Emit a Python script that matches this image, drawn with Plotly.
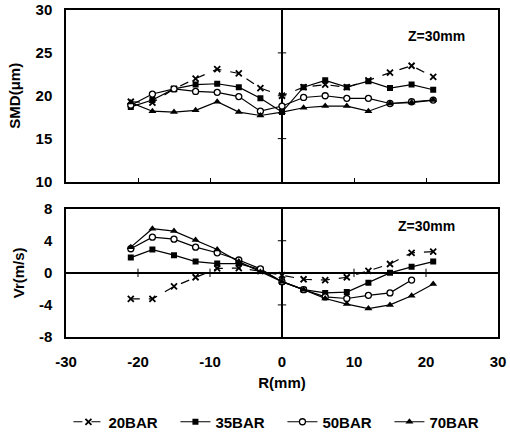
import plotly.graph_objects as go
from plotly.subplots import make_subplots

R = [-21, -18, -15, -12, -9, -6, -3, 0, 3, 6, 9, 12, 15, 18, 21]

smd_20 = [19.3, 19.2, 20.8, 22.0, 23.1, 22.6, 20.9, 20.0, 21.0, 21.3, 21.0, 21.8, 22.7, 23.5, 22.2]
smd_35 = [18.7, 19.5, 20.8, 21.3, 21.4, 21.0, 19.7, 18.1, 21.0, 21.8, 21.0, 21.7, 20.9, 21.3, 20.7]
smd_50 = [18.9, 20.2, 20.8, 20.5, 20.4, 19.9, 18.2, 18.8, 19.8, 20.0, 19.7, 19.7, 19.1, 19.3, 19.5]
smd_70 = [19.2, 18.2, 18.1, 18.3, 19.3, 18.1, 17.7, 18.1, 18.6, 18.8, 18.8, 18.2, 19.1, 19.2, 19.5]

vr_20 = [-3.25, -3.25, -1.7, -0.55, 0.55, 0.6, 0.2, -0.3, -0.8, -0.9, -0.55, 0.25, 1.1, 2.5, 2.65]
vr_35 = [1.9, 2.9, 2.2, 1.4, 1.15, 1.15, 0.4, -1.1, -2.1, -2.5, -2.4, -1.25, 0.0, 0.75, 1.4]
vr_50 = [3.0, 4.45, 4.2, 3.2, 2.5, 1.6, 0.5, -1.1, -2.1, -3.0, -3.2, -2.8, -2.5, -0.9, None]
vr_70 = [3.2, 5.5, 5.2, 4.1, 2.9, 1.4, 0.1, -1.1, -2.1, -3.2, -3.9, -4.45, -4.0, -2.85, -1.4]

x_ticks = [-30, -20, -10, 0, 10, 20, 30]
smd_ticks = [10, 15, 20, 25, 30]
vr_ticks = [-8, -4, 0, 4, 8]

names = ["20BAR", "35BAR", "50BAR", "70BAR"]
smd = [smd_20, smd_35, smd_50, smd_70]
vr = [vr_20, vr_35, vr_50, vr_70]

styles = [
    dict(symbol="x-thin", size=6, color="black", line=dict(width=1.8, color="black"), dash="dash"),
    dict(symbol="square", size=6, color="black", line=dict(width=0, color="black"), dash="solid"),
    dict(symbol="circle", size=6, color="white", line=dict(width=1.3, color="black"), dash="solid"),
    dict(symbol="triangle-up", size=7, color="black", line=dict(width=0, color="black"), dash="solid"),
]

fig = make_subplots(rows=2, cols=1, vertical_spacing=0.083, row_heights=[0.572, 0.428])

# small tick marks on the crossing axes (Excel style), derived from tick arrays
inner_x = [t for t in x_ticks if t not in (-30, 0, 30)]
tick_mk = dict(color="black", size=6, line=dict(width=1, color="black"))
fig.add_trace(go.Scatter(x=[0] * 3, y=smd_ticks[1:4], mode="markers", showlegend=False,
                         hoverinfo="skip", marker=dict(symbol="line-ew", **tick_mk)), row=1, col=1)
fig.add_trace(go.Scatter(x=[0, 0], y=[vr_ticks[1], vr_ticks[3]], mode="markers", showlegend=False,
                         hoverinfo="skip", marker=dict(symbol="line-ew", **tick_mk)), row=2, col=1)
fig.add_trace(go.Scatter(x=inner_x, y=[0] * len(inner_x), mode="markers", showlegend=False,
                         hoverinfo="skip", marker=dict(symbol="line-ns", **tick_mk)), row=2, col=1)

for i, name in enumerate(names):
    st = styles[i]
    mk = dict(symbol=st["symbol"], size=st["size"], color=st["color"], line=st["line"])
    fig.add_trace(go.Scatter(x=R, y=smd[i], mode="lines+markers", name=name,
                             line=dict(color="black", width=1.2, dash=st["dash"]),
                             marker=mk, showlegend=True, legendgroup=name), row=1, col=1)
    fig.add_trace(go.Scatter(x=R, y=vr[i], mode="lines+markers", name=name,
                             line=dict(color="black", width=1.2, dash=st["dash"]),
                             marker=mk, showlegend=False, legendgroup=name,
                             connectgaps=False), row=2, col=1)

FONT = "Liberation Sans"
tickf = dict(family=FONT, size=15, color="black")

def b(v):
    return "<b>%s</b>" % v

axis_common = dict(showline=True, linecolor="black", linewidth=1.5, mirror=True,
                   showgrid=False, tickfont=tickf, ticklabeloverflow="allow")

fig.update_xaxes(range=[-30, 30], zeroline=True, zerolinecolor="black",
                 zerolinewidth=1.5, **axis_common)
fig.update_xaxes(showticklabels=False, ticks="inside", ticklen=4, tickcolor="black",
                 tickvals=inner_x, row=1, col=1)
fig.update_xaxes(ticks="", tickvals=x_ticks, ticktext=[b(t) for t in x_ticks],
                 ticklabelstandoff=10,
                 title=dict(text=b("R(mm)"), font=tickf, standoff=9), row=2, col=1)

fig.update_yaxes(range=[10, 30], tickvals=smd_ticks, ticktext=[b(t) for t in smd_ticks],
                 ticks="", ticklabelstandoff=9, zeroline=False,
                 title=dict(text=b("SMD(μm)"), font=tickf, standoff=11),
                 row=1, col=1, **axis_common)
fig.update_yaxes(range=[-8, 8], tickvals=vr_ticks, ticktext=[b(t) for t in vr_ticks],
                 ticks="", ticklabelstandoff=9, zeroline=True, zerolinecolor="black",
                 zerolinewidth=1.5,
                 title=dict(text=b("Vr(m/s)"), font=tickf, standoff=11),
                 row=2, col=1, **axis_common)

zf = dict(family=FONT, size=14, color="black")
fig.add_annotation(text=b("Z=30mm"), x=21.4, y=27.0, xref="x", yref="y",
                   showarrow=False, font=zf)
fig.add_annotation(text=b("Z=30mm"), x=20.0, y=5.9, xref="x2", yref="y2",
                   showarrow=False, font=zf)

fig.update_layout(
    width=510, height=434,
    margin=dict(l=66, r=12, t=10, b=97, autoexpand=False),
    paper_bgcolor="white", plot_bgcolor="white",
    font=tickf,
    legend=dict(orientation="h", x=0.501, xanchor="center", y=-0.26, yanchor="middle",
                font=dict(family=FONT, size=15, color="black", weight="bold"),
                itemwidth=30, entrywidth=62, entrywidthmode="pixels",
                tracegroupgap=0, bgcolor="rgba(0,0,0,0)"),
)

fig.write_html("out.html", config={"displayModeBar": False},
               post_script="document.body.style.margin='0';document.body.style.overflow='hidden';")
